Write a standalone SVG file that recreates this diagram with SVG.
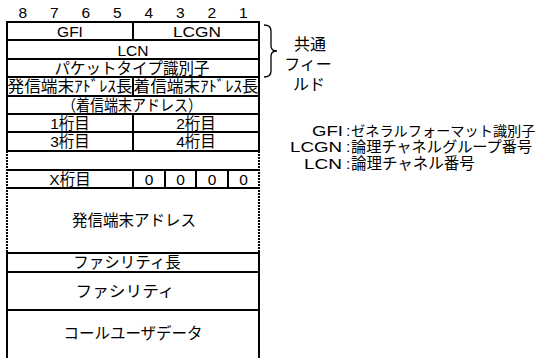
<svg xmlns="http://www.w3.org/2000/svg" width="542" height="358" viewBox="0 0 542 358">
<style>
.t{font-family:"Liberation Sans","Noto Sans CJK JP",sans-serif;font-size:15.5px;fill:#000;text-anchor:middle}
.l{font-family:"Liberation Sans","Noto Sans CJK JP",sans-serif;font-size:15.5px;fill:#000}
.e{text-anchor:end}
.s{stroke:#000;stroke-width:2;fill:none}
.d{stroke:#000;stroke-width:2;fill:none;stroke-dasharray:2 1}
.b{stroke:#000;stroke-width:1.3;fill:none}
</style>
<rect width="542" height="358" fill="#fff"/>
<g id="bits" class="t" style="font-size:15.5px">
<text x="22.75" y="18">8</text><text x="54.25" y="18">7</text><text x="85.75" y="18">6</text><text x="117.25" y="18">5</text>
<text x="148.75" y="18">4</text><text x="180.25" y="18">3</text><text x="211.75" y="18">2</text><text x="243.25" y="18">1</text>
</g>
<g id="frame">
<path class="s" d="M7,21 V151 M259,21 V151 M7,253 V358 M259,253 V358"/>
<path class="d" d="M7,151 V253 M259,151 V253"/>
<path class="s" d="M6,22 H260 M6,40 H260 M6,59 H260 M6,77 H260 M6,96 H260 M6,114 H260 M6,132 H260 M6,151 H260 M6,170 H260 M6,188 H260 M6,253 H260 M6,272 H260 M6,310 H260"/>
</g>
<g id="gfi-lcgn"><path class="s" d="M133,22 V40"/><text class="t" x="70" y="36.5">GFI</text><text class="t" x="197" y="36.5" textLength="48" lengthAdjust="spacingAndGlyphs">LCGN</text></g>
<g id="lcn"><text class="t" x="133" y="55.5">LCN</text></g>
<g id="packet-type"><text class="t" x="132" y="73.5">パケットタイプ識別子</text></g>
<g id="addr-len"><path class="s" d="M133,77 V96"/><text class="t" x="70" y="92" textLength="125" lengthAdjust="spacingAndGlyphs">発信端末ｱﾄﾞﾚｽ長</text><text class="t" x="196" y="92" textLength="125" lengthAdjust="spacingAndGlyphs">着信端末ｱﾄﾞﾚｽ長</text></g>
<g id="called-addr"><text class="t" x="132" y="110.5" textLength="140" lengthAdjust="spacingAndGlyphs">（着信端末アドレス）</text></g>
<g id="digits12"><path class="s" d="M133,114 V132"/><text class="t" x="70" y="128.5">1桁目</text><text class="t" x="196" y="128.5">2桁目</text></g>
<g id="digits34"><path class="s" d="M133,132 V151"/><text class="t" x="70" y="147">3桁目</text><text class="t" x="196" y="147">4桁目</text></g>
<g id="digitX"><path class="s" d="M133,170 V188 M165,170 V188 M196,170 V188 M228,170 V188"/><text class="t" x="70" y="184.5">X桁目</text><text class="t" x="149" y="184.5">0</text><text class="t" x="180.5" y="184.5">0</text><text class="t" x="212" y="184.5">0</text><text class="t" x="243.5" y="184.5">0</text></g>
<g id="calling-addr"><text class="t" x="134" y="225.5">発信端末アドレス</text></g>
<g id="facility-len"><text class="t" x="127" y="268">ファシリティ長</text></g>
<g id="facility"><text class="t" x="125" y="296.5" textLength="99" lengthAdjust="spacingAndGlyphs">ファシリティ</text></g>
<g id="user-data"><text class="t" x="133" y="339">コールユーザデータ</text></g>
<g id="connectors"><path class="b" d="M264,25 Q271,25 271,31 L271,46 Q271,51 277,51 Q271,51 271,56 L271,71 Q271,77 264,77"/></g>
<g id="common-label" class="t" style="font-size:16px"><text x="310" y="50">共通</text><text x="308" y="70">フィー</text><text x="309" y="90">ルド</text></g>
<g id="legend" class="l">
<text class="e" x="343" y="135.5" textLength="31" lengthAdjust="spacingAndGlyphs">GFI</text><text x="346" y="135.5">:</text><text x="351" y="135.5" style="font-size:14.2px">ゼネラルフォーマット識別子</text>
<text class="e" x="342" y="152" textLength="52" lengthAdjust="spacingAndGlyphs">LCGN</text><text x="346" y="152">:</text><text x="351" y="152" style="font-size:15.2px">論理チャネルグループ番号</text>
<text class="e" x="342" y="168.5" textLength="38" lengthAdjust="spacingAndGlyphs">LCN</text><text x="346" y="168.5">:</text><text x="351" y="168.5">論理チャネル番号</text>
</g>
</svg>
